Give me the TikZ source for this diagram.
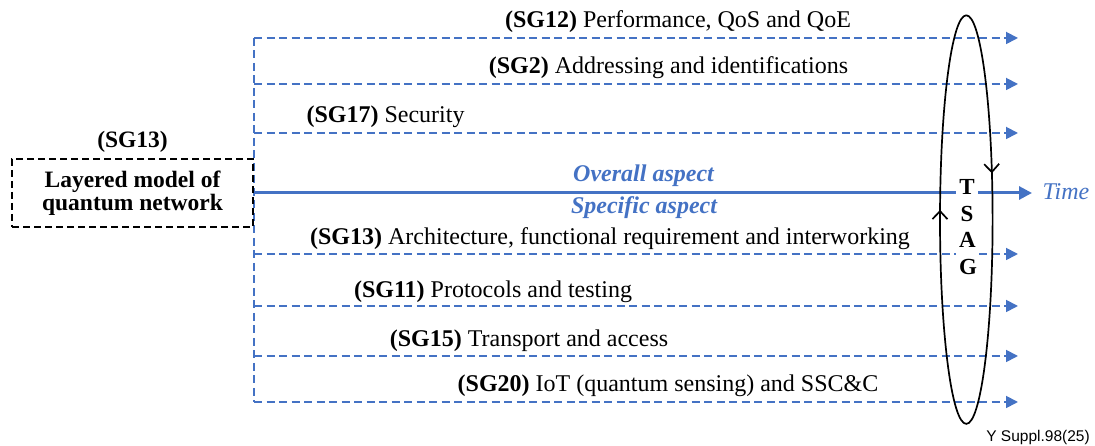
\documentclass[tikz,border=0pt]{standalone}
\usepackage{fontspec}
\setmainfont{Liberation Serif}
\newfontfamily\labelsans{Liberation Sans}
\usetikzlibrary{arrows.meta,decorations.markings}
\definecolor{itublue}{HTML}{4472C4}
\tikzset{
  sgline/.style={itublue, line width=1.8pt, dash pattern=on 8pt off 4.5pt,
    -{Triangle[length=12pt,width=12pt]}},
  mainline/.style={itublue, line width=3pt, -{Triangle[length=13pt,width=13pt]}},
  sglabel/.style={anchor=base, inner sep=0pt, font=\fontsize{24}{26}\selectfont},
  aspectlabel/.style={anchor=base, inner sep=0pt, text=itublue,
    font=\fontsize{24}{26}\selectfont\itshape\bfseries},
  modelbox/.style={draw=black, line width=1.5pt, dash pattern=on 7pt off 4pt,
    minimum width=241pt, minimum height=68pt, inner sep=0pt, align=center,
    font=\fontsize{23.5}{23}\selectfont\bfseries},
  cycle/.style={line width=1.7pt, black,
    postaction={decorate, decoration={markings,
      mark=at position 0.1946 with {\arrow{Straight Barb[length=8pt,width=15pt,line width=1.7pt]}},
      mark=at position 0.7616 with {\arrow{Straight Barb[length=8pt,width=15pt,line width=1.7pt]}}}}},
}
\begin{document}
\begin{tikzpicture}[x=1pt,y=1pt]
\useasboundingbox (0,0) rectangle (1095,446);

% left rail and study-group lanes
\coordinate (L1) at (254,408);  \coordinate (R1) at (1018,408);
\coordinate (L2) at (254,362);  \coordinate (R2) at (1018,362);
\coordinate (L3) at (254,313);  \coordinate (R3) at (1018,313);
\coordinate (L4) at (254,192);  \coordinate (R4) at (1018,192);
\coordinate (L5) at (254,140);  \coordinate (R5) at (1018,140);
\coordinate (L6) at (254,90);   \coordinate (R6) at (1018,90);
\coordinate (L7) at (254,44); \coordinate (R7) at (1018,44);

\draw[itublue, line width=1.8pt, dash pattern=on 8pt off 4.5pt] (L1) -- (L7);
\foreach \i in {1,...,7} { \draw[sgline] (L\i) -- (R\i); }

% layered model box and the time axis
\node[modelbox] (model) at (132.5,253) {Layered model of\\quantum network};
\node[anchor=base, inner sep=0pt, font=\fontsize{23.5}{24}\selectfont\bfseries] (modelsg) at (132.5,298) {(SG13)};
\coordinate (timeend) at (1032,253);
\draw[mainline] (model.east) -- (timeend);
\node[aspectlabel, font=\fontsize{24}{26}\selectfont\itshape] (timelbl) at (1066,246) {Time};

\node[aspectlabel] (overall) at (643.5,264) {Overall aspect};
\node[aspectlabel] (specific) at (644,232) {Specific aspect};

% study-group labels
\node[sglabel] (sg12) at (678,418) {\textbf{(SG12)} Performance, QoS and QoE};
\node[sglabel] (sg2)  at (668.5,372) {\textbf{(SG2)} Addressing and identifications};
\node[sglabel] (sg17) at (385.5,323) {\textbf{(SG17)} Security};
\node[sglabel] (sg13) at (610,201) {\textbf{(SG13)} Architecture, functional requirement and interworking};
\node[sglabel] (sg11) at (493,148) {\textbf{(SG11)} Protocols and testing};
\node[sglabel] (sg15) at (529,99) {\textbf{(SG15)} Transport and access};
\node[sglabel] (sg20) at (668,54) {\textbf{(SG20)} IoT (quantum sensing) and SSC\&C};

% TSAG coordination loop
\draw[cycle] (966.3,430.7) arc[start angle=90, end angle=-270, x radius=26.3, y radius=204.3];
\node[fill=white, inner xsep=3pt, inner ysep=3pt, text width=16pt, align=center,
  font=\fontsize{23}{26.7}\selectfont\bfseries] (tsag) at (967,219) {T\\S\\A\\G};

\node[anchor=base, inner sep=0pt, font=\labelsans\fontsize{15.5}{18}\selectfont] (ref) at (1038,4) {Y Suppl.98(25)};
\end{tikzpicture}
\end{document}
